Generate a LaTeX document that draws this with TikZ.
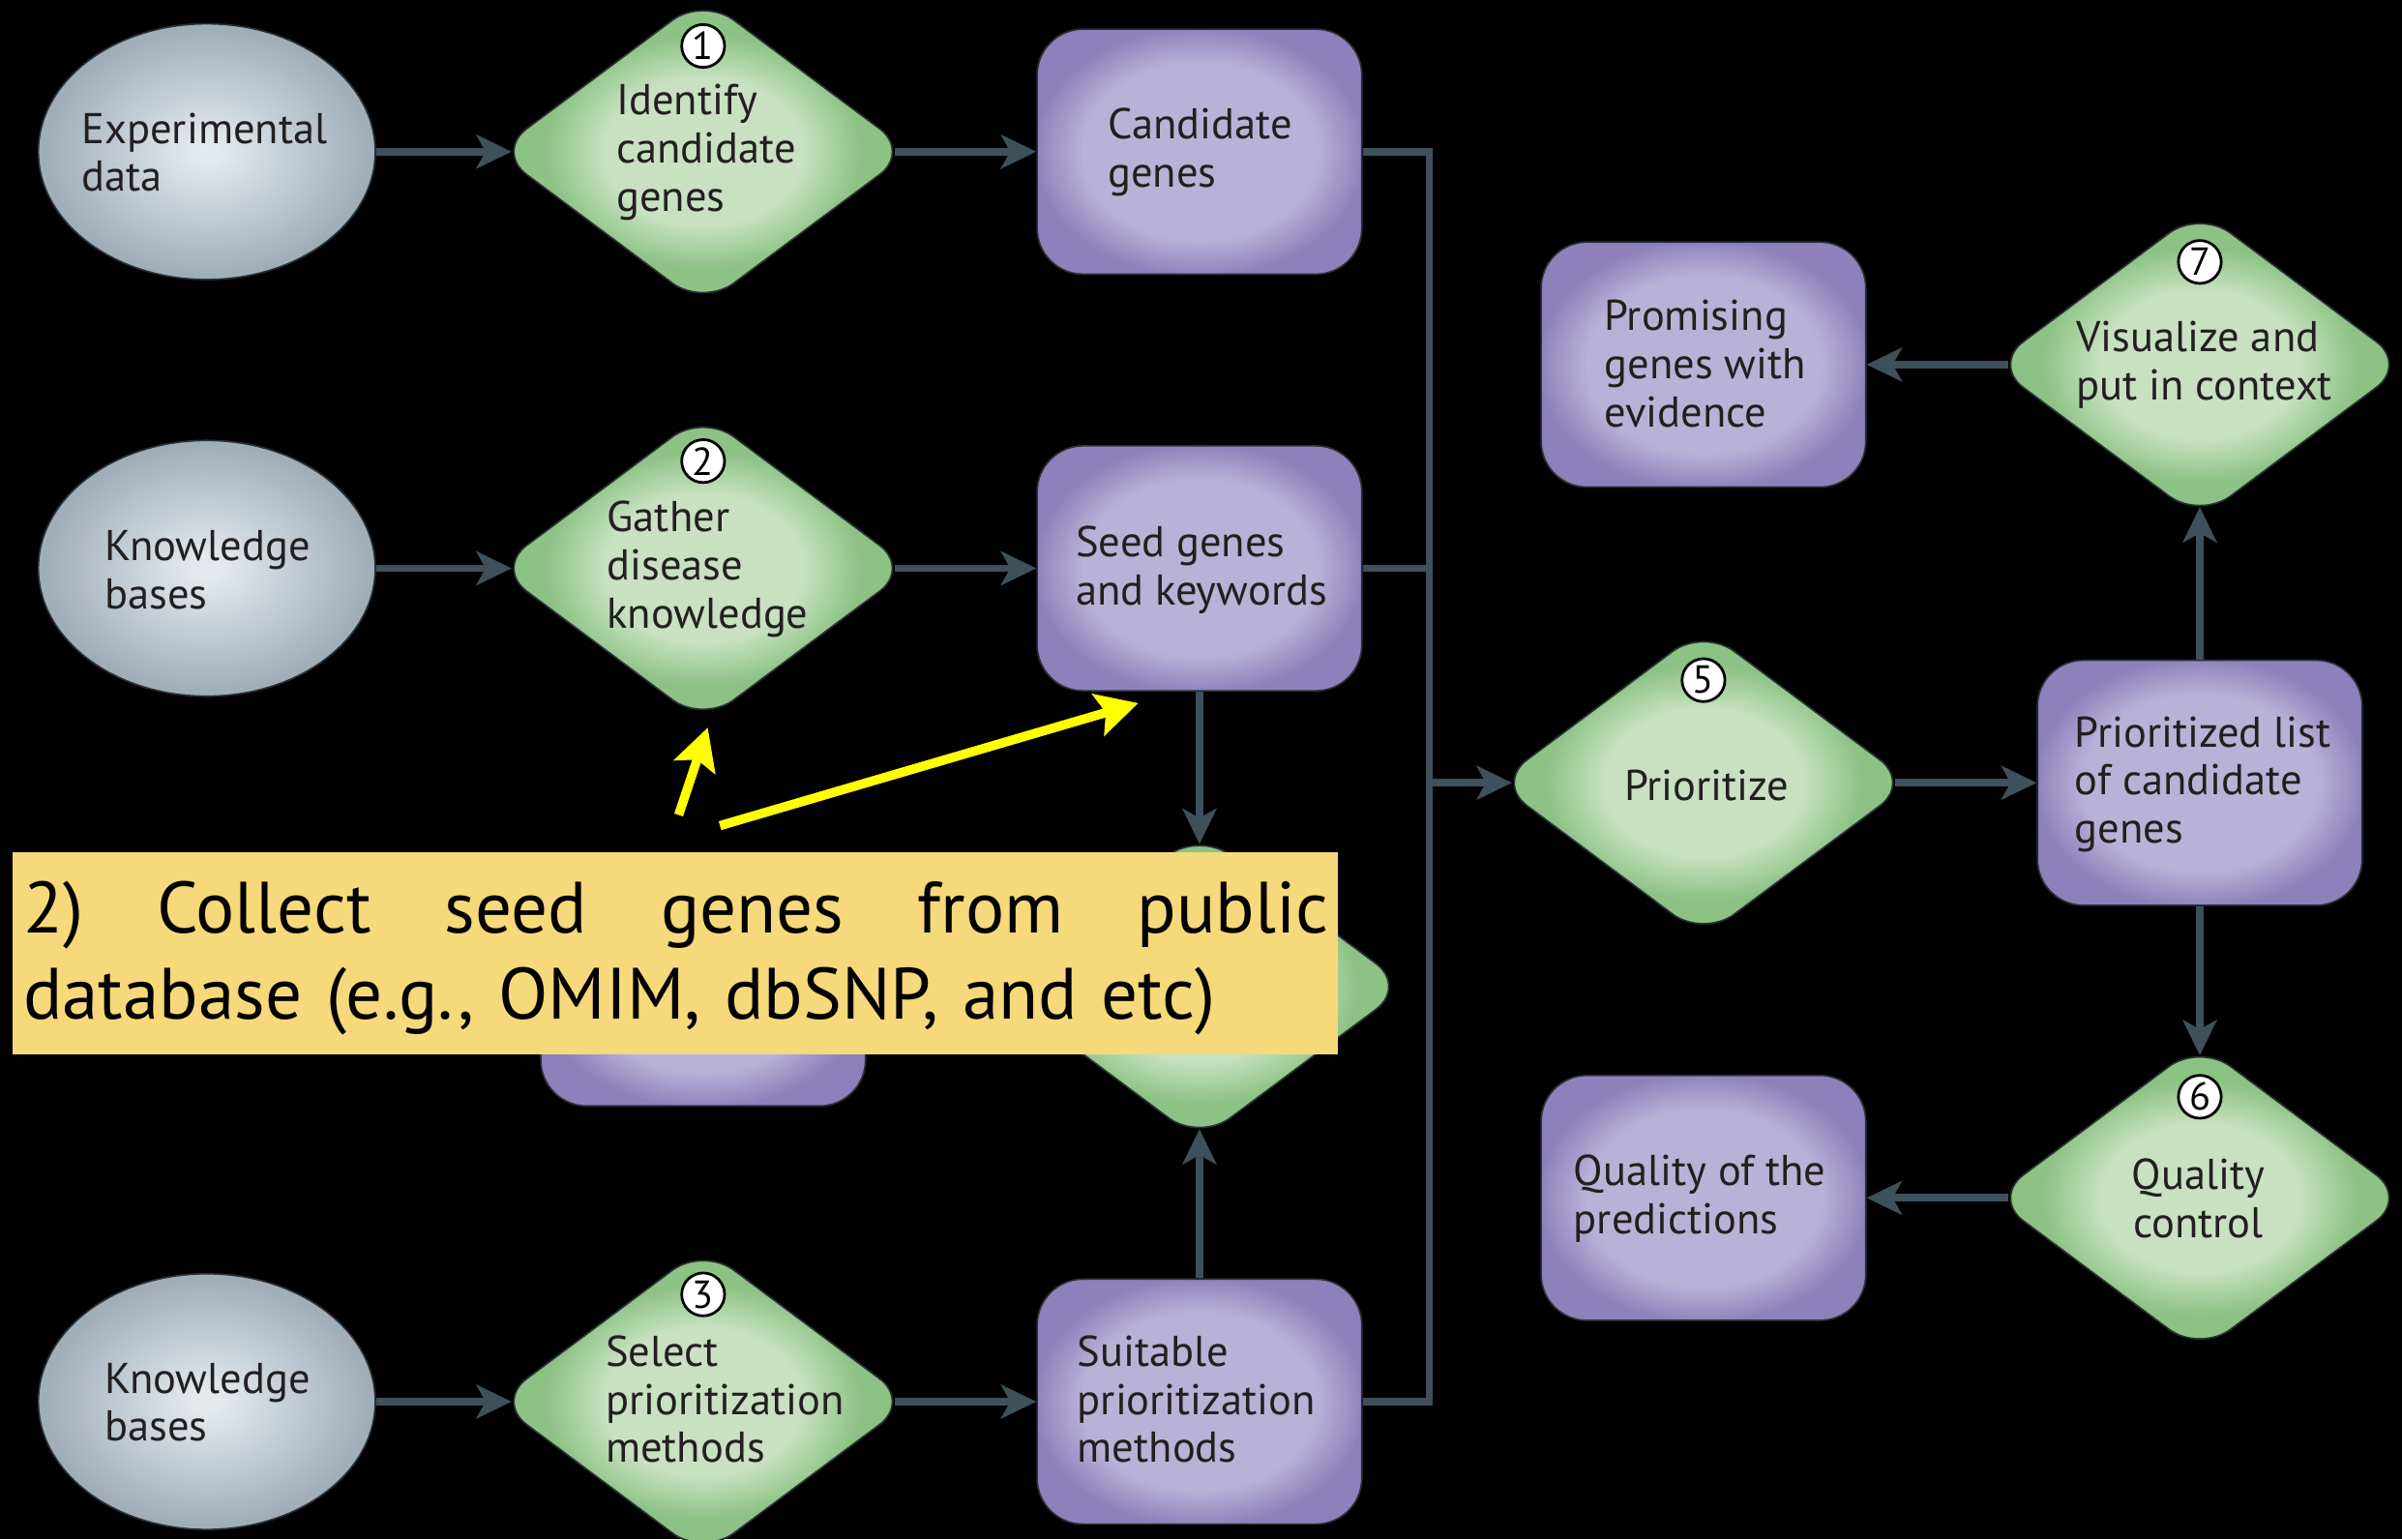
\documentclass[tikz,border=0pt]{standalone}
\usepackage{fontspec}
\setmainfont{PT Sans}
\newfontfamily\notefont{PT Sans}
\usetikzlibrary{shapes.geometric,arrows.meta,calc,backgrounds}

\definecolor{ellin}{HTML}{E4E9EE}
\definecolor{ellout}{HTML}{A0AEB8}
\definecolor{diain}{HTML}{C7E1C1}
\definecolor{diaout}{HTML}{8DC285}
\definecolor{boxin}{HTML}{B9B2D7}
\definecolor{boxout}{HTML}{8E81BB}
\definecolor{edge}{HTML}{2B3136}
\definecolor{conncol}{HTML}{3E505A}
\definecolor{notebg}{HTML}{F6D97A}
\definecolor{hlcol}{HTML}{FFFF00}
\definecolor{ink}{HTML}{231F20}

% soft fills: light centre, darker rim (the shape's edge sits at 25bp)
\pgfdeclareradialshading{ellshade}{\pgfpointorigin}{color(0bp)=(ellin); color(2bp)=(ellin); color(24bp)=(ellout); color(50bp)=(ellout)}
\pgfdeclareradialshading{diashade}{\pgfpointorigin}{color(0bp)=(diain); color(12bp)=(diain); color(19bp)=(diaout); color(50bp)=(diaout)}
\pgfdeclareradialshading{boxshade}{\pgfpointorigin}{color(0bp)=(boxin); color(18bp)=(boxin); color(25.5bp)=(boxout); color(50bp)=(boxout)}

\tikzset{
  ell/.style={ellipse, draw=edge, line width=0.6pt, shading=ellshade,
    minimum width=4.4cm, minimum height=3.34cm, inner sep=0pt},
  dia/.style={diamond, draw=edge, line width=0.6pt, shading=diashade,
    minimum width=5.42cm, minimum height=4.04cm, inner sep=0pt, rounded corners=0.5cm},
  box/.style={rectangle, draw=edge, line width=0.6pt, shading=boxshade,
    minimum width=4.24cm, minimum height=3.2cm, rounded corners=0.6cm, inner sep=0pt},
  lbl/.style={text=ink, font=\fontsize{16}{17.9}\selectfont, align=left, inner sep=0pt, anchor=west},
  num/.style={circle, draw=black, fill=white, line width=1pt, minimum size=0.56cm,
    inner sep=0pt, text=black, font=\fontsize{14.5}{14.5}\selectfont},
  conn/.style={draw=conncol, line width=0.1cm, -{Stealth[length=0.46cm,width=0.44cm,inset=0.12cm]}},
  bus/.style={draw=conncol, line width=0.1cm},
  hl/.style={draw=hlcol, line width=0.12cm, -{Stealth[length=0.54cm,width=0.56cm,inset=0.1cm]}},
  % the drawn diamond tips are rounded, so reach past the sharp anchors
  intox/.style={shorten >=-0.22cm},
  intoy/.style={shorten >=-0.17cm},
  fromx/.style={shorten <=-0.22cm},
}

\begin{document}
\begin{tikzpicture}[x=0.02cm, y=-0.02cm]
\useasboundingbox (0,0) rectangle (1568,1005);

% sources
\node[ell] (kexp) at (135,99) {};
\node[ell] (kb1) at (135,371) {};
\node[ell] (kb2) at (135,915) {};

% steps
\node[dia] (s1) at (459,99) {};
\node[dia] (s2) at (459,371) {};
\node[dia] (s3) at (459,915) {};
\node[dia] (s4) at (783,644) {};
\node[dia] (s5) at (1112,511) {};
\node[dia] (s6) at (1436,782) {};
\node[dia] (s7) at (1436,238) {};

% results
\node[box] (cand) at (783,99) {};
\node[box] (seed) at (783,371) {};
\node[box] (data) at (459,642) {};
\node[box] (meth) at (783,915) {};
\node[box] (prom) at (1112,238) {};
\node[box] (plist) at (1436,511) {};
\node[box] (qual) at (1112,782) {};

% labels
\node[lbl] (tkexp) at (53,99.5) {Experimental\\data};
\node[lbl] (tkb1) at (68,372) {Knowledge\\bases};
\node[lbl] (tkb2) at (68,915.5) {Knowledge\\bases};
\node[lbl] (ts1) at (402,99.5) {Identify\\candidate\\genes};
\node[lbl] (ts2) at (396,371.5) {Gather\\disease\\knowledge};
\node[lbl] (ts3) at (395,913.5) {Select\\prioritization\\methods};
\node[lbl, anchor=center] (ts5) at (1114,513) {Prioritize};
\node[lbl] (ts7) at (1355,238) {Visualize and\\put in context};
\node[lbl, anchor=center, align=center] (ts6) at (1435,782.5) {Quality\\control};
\node[lbl] (tcand) at (723,99.5) {Candidate\\genes};
\node[lbl] (tseed) at (702,372) {Seed genes\\and keywords};
\node[lbl] (tmeth) at (703,913.5) {Suitable\\prioritization\\methods};
\node[lbl] (tprom) at (1047,237.5) {Promising\\genes with\\evidence};
\node[lbl] (tplist) at (1354,512) {Prioritized list\\of candidate\\genes};
\node[lbl] (tqual) at (1027,782.5) {Quality of the\\predictions};

% step numbers
\node[num] (n1) at (459,30) {1};
\node[num] (n2) at (459,301) {2};
\node[num] (n3) at (459,845) {3};
\node[num] (n5) at (1112,444) {5};
\node[num] (n7) at (1436,171) {7};
\node[num] (n6) at (1436,716) {6};

% bus joints
\coordinate (bustop) at (933,99);
\coordinate (busseed) at (933,371);
\coordinate (busmid) at (933,511);
\coordinate (busbot) at (933,915);

\begin{scope}[on background layer]
  \fill[black] (0,0) rectangle (1568,1005);
  \draw[conn,intox] (kexp) -- (s1);
  \draw[conn,fromx] (s1) -- (cand);
  \draw[conn,intox] (kb1) -- (s2);
  \draw[conn,fromx] (s2) -- (seed);
  \draw[conn,intox] (kb2) -- (s3);
  \draw[conn,fromx] (s3) -- (meth);
  \draw[conn,intoy] (seed) -- (s4);
  \draw[conn,intoy] (meth) -- (s4);
  \draw[bus] (cand.east) -- (bustop) -- (busbot) -- (meth.east);
  \draw[bus] (seed.east) -- (busseed);
  \draw[conn,intox] (busmid) -- (s5);
  \draw[conn,fromx] (s5) -- (plist);
  \draw[conn,intoy] (plist) -- (s7);
  \draw[conn,fromx] (s7) -- (prom);
  \draw[conn,intoy] (plist) -- (s6);
  \draw[conn,fromx] (s6) -- (qual);
\end{scope}

% callout
\node[fill=notebg, minimum width=17.3cm, minimum height=2.64cm, anchor=north west, inner sep=0pt] (note) at (8,556) {};
\node[anchor=north west, inner sep=0pt, text width=17.04cm, align=left, text=black,
  font=\notefont\fontsize{27}{31.9}\selectfont] (notetext) at (15,575)
  {\hbox to 17.04cm{2)\hfill Collect\hfill seed\hfill genes\hfill from\hfill public}\\database (e.g., OMIM, dbSNP, and etc)};

% pointers
\coordinate (hlAtail) at (443,532);
\coordinate (hlAtip) at (462,475);
\coordinate (hlBtail) at (470,539);
\coordinate (hlBtip) at (743,459);
\draw[hl] (hlAtail) -- (hlAtip);
\draw[hl] (hlBtail) -- (hlBtip);
\end{tikzpicture}
\end{document}
